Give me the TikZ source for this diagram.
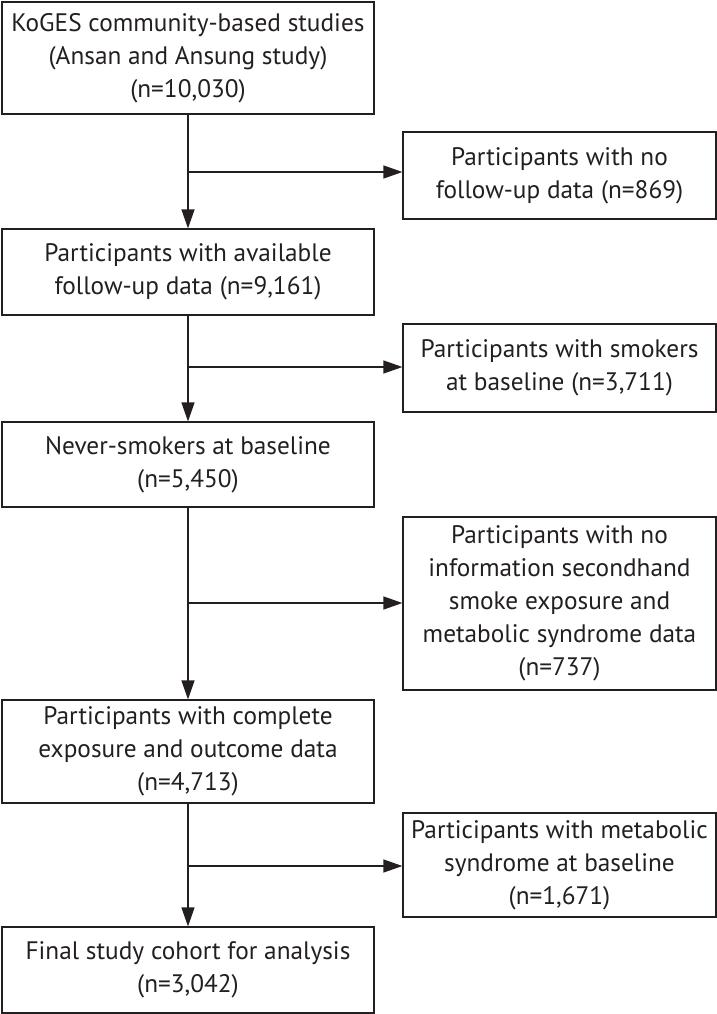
\documentclass[tikz,border=0pt]{standalone}
\usepackage{fontspec}
\setmainfont{PT Sans}
\usetikzlibrary{arrows.meta,calc}
\definecolor{ink}{HTML}{231F20}
\begin{document}
\begin{tikzpicture}[x=1pt,y=-1pt,
  box/.style={draw=ink,line width=1.2pt,align=center,inner sep=0pt,text=ink,
    font=\fontsize{25.3}{33}\selectfont},
  lbox/.style={box,minimum width=372pt},
  rbox/.style={box,minimum width=313pt},
  arr/.style={draw=ink,line width=1.2pt,-{Triangle[length=19pt,width=13pt]}}]
\useasboundingbox (0,0) rectangle (717,1014);
\node[lbox,minimum height=112pt] (b1) at (188,58) {KoGES community-based studies\\(Ansan and Ansung study)\\(n=10,030)};
\node[lbox,minimum height=86pt] (b2) at (188,272) {Participants with available\\follow-up data (n=9,161)};
\node[lbox,minimum height=85pt] (b3) at (188,464.5) {Never-smokers at baseline\\(n=5,450)};
\node[lbox,minimum height=103pt] (b4) at (188,751.5) {Participants with complete\\exposure and outcome data\\(n=4,713)};
\node[lbox,minimum height=86pt] (b5) at (188,970) {Final study cohort for analysis\\(n=3,042)};
\node[rbox,minimum height=87pt] (r1) at (559.5,175.5) {Participants with no\\follow-up data (n=869)};
\node[rbox,minimum height=88pt] (r2) at (559.5,368) {Participants with smokers\\at baseline (n=3,711)};
\node[rbox,minimum height=173pt] (r3) at (559.5,603.5) {Participants with no\\information secondhand\\smoke exposure and\\metabolic syndrome data\\(n=737)};
\node[rbox,minimum height=104pt] (r4) at (559.5,865) {Participants with metabolic\\syndrome at baseline\\(n=1,671)};
\coordinate (j1) at (b1.south |- 0,172);
\coordinate (j2) at (b2.south |- 0,367);
\coordinate (j3) at (b3.south |- 0,603);
\coordinate (j4) at (b4.south |- 0,866);
\draw[arr] (b1.south) -- (b2.north);
\draw[arr] (b2.south) -- (b3.north);
\draw[arr] (b3.south) -- (b4.north);
\draw[arr] (b4.south) -- (b5.north);
\draw[arr] (j1) -- (j1 -| r1.west);
\draw[arr] (j2) -- (j2 -| r2.west);
\draw[arr] (j3) -- (j3 -| r3.west);
\draw[arr] (j4) -- (j4 -| r4.west);
\end{tikzpicture}
\end{document}
